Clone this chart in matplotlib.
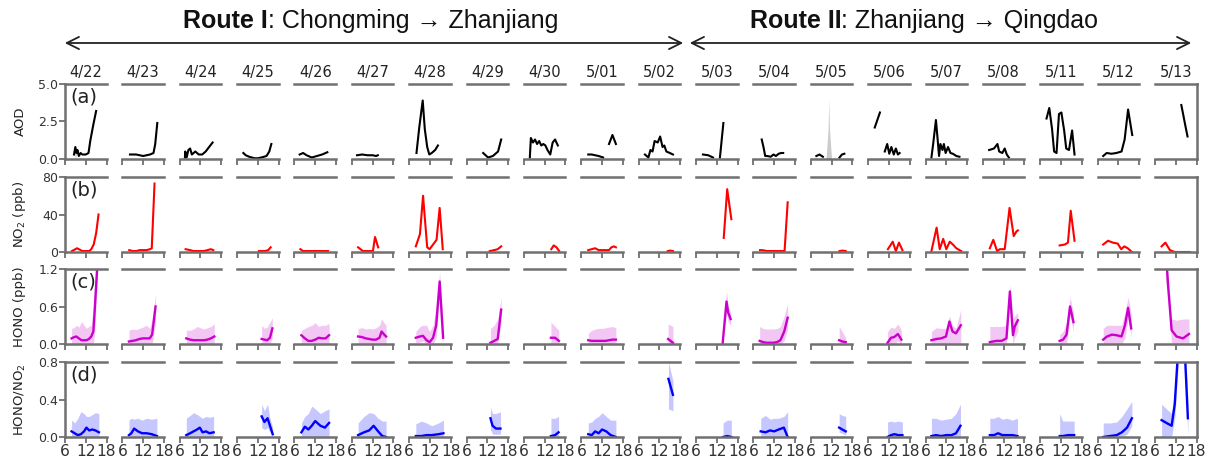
import numpy as np
import matplotlib
matplotlib.use("Agg")
import matplotlib.pyplot as plt

nan = np.nan

DATES = ["4/22", "4/23", "4/24", "4/25", "4/26", "4/27", "4/28", "4/29", "4/30", "5/01",
         "5/02", "5/03", "5/04", "5/05", "5/06", "5/07", "5/08", "5/11", "5/12", "5/13"]
ROUTE_TITLES = [("Route I", ": Chongming \u2192 Zhanjiang"), ("Route II", ": Zhanjiang \u2192 Qingdao")]
ROW_LABELS = ["AOD", "NO$_2$ (ppb)", "HONO (ppb)", "HONO/NO$_2$"]
PANEL_TAGS = ["(a)", "(b)", "(c)", "(d)"]
YTICKS = [[0.0, 2.5, 5.0], [0, 40, 80], [0.0, 0.6, 1.2], [0.0, 0.4, 0.8]]
YTICKLABELS = [["0.0", "2.5", "5.0"], ["0", "40", "80"], ["0.0", "0.6", "1.2"], ["0.0", "0.4", "0.8"]]
XTICKS = [6, 12, 18]

# ---------------- (a) AOD ----------------
AOD_H = [
    [8.6, 9.0, 9.3, 9.6, 10, 10.5, 11, 12, 12.8, 13.3, 14.2, 15.0],
    [8.2, 9, 10, 11, 12, 13, 14, 15, 15.5, 16.1],
    [7.5, 7.6, 8.0, 8.5, 9.0, 9.5, 10.5, 11.5, 12.5, 13.5, 14.5, 15.5],
    [7.8, 8.5, 9.5, 11, 12, 13, 14.5, 15.3, 15.9],
    [7.5, 8.5, 9.5, 11, 12.5, 14, 15.5],
    [7.5, 9, 10.5, 12, 13, 13.5],
    [8.1, 8.9, 9.9, 10.5, 11.2, 11.8, 12.5, 13.5, 14.3],
    [10.8, 12.2, 13.6, 15.1, 16.0],
    [7.7, 8.0, 8.6, 9.2, 9.8, 10.4, 11.0, 11.6, 12.2, 12.8, 13.6, 14.3, 15.0, 15.8],
    [8.0, 9.0, 10.0, 11.0, 12.3, 13.0, 14.0, 15.0, 16.0],
    [7.8, 8.8, 9.4, 10.0, 10.6, 11.5, 12.2, 12.9, 13.4, 14.0, 15.0, 15.9],
    [8.0, 9.5, 10.9, 12.0, 12.9, 13.9],
    [8.4, 8.9, 9.4, 10.0, 11.0, 11.8, 12.5, 13.3, 14.0, 14.6],
    [7.6, 8.5, 9.5, 12.0, 14.3, 15.0, 15.7],
    [7.9, 9.4, 10.0, 10.8, 11.5, 12.1, 12.7, 13.4, 14.0, 14.6, 15.1],
    [7.7, 8.2, 9.0, 9.5, 9.9, 10.3, 10.9, 11.3, 11.8, 12.5, 13.2, 13.9, 14.9, 15.8],
    [7.8, 9.2, 10.2, 10.7, 11.6, 12.3, 12.9, 13.5],
    [7.8, 8.6, 9.4, 10.0, 10.7, 11.4, 12.1, 12.9, 13.5, 14.3, 15.2, 15.9],
    [7.6, 8.6, 10.0, 11.4, 12.9, 13.8, 14.8, 15.5, 16.0],
    [13.6, 14.2, 14.7, 15.4],
]
AOD_V = [
    [0.3, 0.8, 0.4, 0.6, 0.2, 0.4, 0.3, 0.3, 0.4, 1.2, 2.3, 3.2],
    [0.3, 0.3, 0.3, 0.25, 0.2, 0.25, 0.3, 0.4, 1.0, 2.4],
    [0.1, 0.5, 0.1, 0.6, 0.7, 0.3, 0.5, 0.3, 0.3, 0.5, 0.8, 1.1],
    [0.4, 0.25, 0.15, 0.05, 0.05, 0.1, 0.2, 0.5, 1.0],
    [0.3, 0.4, 0.25, 0.1, 0.2, 0.3, 0.45],
    [0.25, 0.3, 0.25, 0.25, 0.2, 0.25],
    [0.4, 2.1, 3.9, 2.0, 0.8, 0.3, 0.4, 0.6, 0.9],
    [0.4, 0.1, 0.2, 0.5, 1.3],
    [0.1, 1.4, 1.1, 1.3, 1.0, 1.2, 0.9, 1.0, 0.9, 0.6, 0.3, 1.1, 1.3, 0.9],
    [0.3, 0.3, 0.25, 0.2, 0.1, nan, 1.0, 1.6, 1.0],
    [0.3, 0.1, 0.6, 0.5, 1.2, 1.1, 1.5, 0.8, 0.9, 0.5, 0.4, 0.3],
    [0.3, 0.25, 0.1, nan, 0.1, 2.4],
    [1.3, 0.8, 0.2, 0.2, 0.15, 0.3, 0.2, 0.35, 0.4, 0.4],
    [0.2, 0.3, 0.15, nan, 0.1, 0.3, 0.35],
    [2.1, 3.1, nan, 0.5, 1.0, 0.35, 0.8, 0.3, 0.7, 0.3, 0.4],
    [0.1, 1.0, 2.6, 1.3, 0.2, 1.0, 0.6, 1.0, 0.4, 0.8, 0.4, 0.35, 0.2, 0.15],
    [0.6, 0.7, 1.0, 0.5, 0.4, 0.7, 0.3, 0.1],
    [2.7, 3.4, 2.0, 0.5, 0.4, 3.0, 3.1, 1.9, 0.7, 0.6, 1.9, 0.3],
    [0.2, 0.4, 0.35, 0.4, 0.5, 1.3, 3.3, 2.3, 1.6],
    [3.6, 2.9, 2.3, 1.5],
]
# AOD spread (grey shading), only where visible: date index -> (hours, low, high)
AOD_SPREAD_DAY = [0, 13]
AOD_SPREAD_H = [[8.8, 9.0, 9.3], [10.4, 11.0, 11.2, 11.4, 12.0]]
AOD_SPREAD_LO = [[0.3, 0.0, 0.3], [0.0, 0.0, 0.0, 0.0, 0.0]]
AOD_SPREAD_HI = [[0.3, 0.8, 0.3], [0.0, 2.0, 4.0, 2.0, 0.0]]

# ---------------- (b) NO2 ----------------
NO2_H = [
    [8, 9, 9.5, 10, 11, 12, 13, 13.6, 14.3, 15.0, 15.7],
    [8, 9, 10, 11, 12, 13, 14, 14.5, 15.3],
    [7.7, 9, 10, 11, 12, 13, 14, 15, 15.7],
    [12.3, 13, 14, 15, 15.7],
    [7.7, 8.5, 10, 12, 14, 15.7],
    [7.8, 9.2, 11.1, 12.1, 12.7, 13.6],
    [7.9, 9.1, 10.0, 11.2, 11.9, 12.9, 13.9, 14.8, 15.7],
    [12.7, 14, 15, 16],
    [13.9, 14.6, 15.4, 16.2],
    [8, 9, 10, 11, 12, 13, 14, 14.7, 15.4, 16],
    [14.4, 15.1, 15.9],
    [14.0, 15.0, 16.2],
    [7.9, 8.5, 10, 12, 14, 15.0, 15.9],
    [14.3, 15.2, 16.1],
    [11.7, 13.1, 14.0, 14.9, 15.9],
    [7.7, 9.2, 10.1, 11.1, 12.0, 13.0, 13.9, 14.9, 16.3],
    [8.0, 9.0, 10.1, 10.9, 12.3, 13.7, 14.9, 15.7, 16.1],
    [11.6, 13.1, 14.0, 14.8, 15.9],
    [7.6, 9.0, 10.4, 11.8, 12.8, 13.7, 14.7, 15.9],
    [7.9, 9.0, 10.3, 11.7, 16.0],
]
NO2_V = [
    [1, 3, 4, 3, 1, 1, 1, 3, 8, 20, 40],
    [2, 1, 1, 2, 2, 2, 3, 4, 73],
    [3, 2, 1, 1, 1, 1, 2, 3, 2],
    [1, 1, 1, 2, 5],
    [3, 1, 1, 1, 1, 1],
    [5, 1, 1, 1, 16, 5],
    [6, 19, 60, 5, 3, 8, 13, 47, 3],
    [1, 2, 3, 6],
    [3, 7, 5, 1],
    [2, 3, 4, 2, 2, 2, 2, 5, 6, 5],
    [1, 1.5, 1],
    [15, 67, 35],
    [2, 2, 1, 1, 1, 1, 53],
    [1, 1.5, 1],
    [3, 11, 1, 10, 2],
    [1, 26, 3, 14, 3, 11, 8, 4, 1],
    [4, 13, 1, 3, 3, 47, 17, 22, 23],
    [7, 8, 10, 44, 12],
    [8, 12, 10, 9, 3, 6, 4, 0],
    [6, 10, 2, 0, 0],
]

# ---------------- (c) HONO ----------------
HONO_H = [
    [7.9, 8.6, 9.3, 10.0, 10.8, 11.5, 12.2, 12.9, 13.6, 14.2, 14.6, 15.5],
    [7.9, 8.9, 9.9, 10.9, 11.9, 12.9, 13.9, 14.6, 15.6],
    [7.9, 9, 10, 11, 12, 13, 14, 15, 16],
    [13.1, 13.9, 14.7, 15.5, 16.2],
    [8, 9, 10, 11, 12, 13, 14, 15, 16],
    [7.8, 9, 10, 11, 12, 13, 14, 14.6, 15.2, 15.9],
    [7.9, 9.1, 10.0, 11.0, 11.9, 12.9, 13.8, 14.8, 15.8],
    [12.9, 14.0, 15.0, 16.0],
    [13.8, 15.0, 16.1],
    [8, 9, 10, 11, 12, 13, 14, 15, 16],
    [14.5, 15.9],
    [13.7, 14.8, 15.3, 16.0],
    [7.8, 8.8, 9.8, 10.8, 11.8, 12.8, 13.8, 14.9, 15.9],
    [14.2, 15.1, 16.1],
    [11.6, 12.6, 13.5, 14.6, 15.6],
    [7.7, 9.1, 10.5, 11.9, 12.9, 13.8, 14.8, 16.2],
    [8.0, 9.9, 11.4, 12.8, 13.8, 14.7, 15.2, 16.1],
    [11.6, 12.6, 13.6, 14.6, 15.6],
    [7.6, 8.7, 10.1, 11.5, 12.9, 13.9, 14.8, 15.7],
    [9.1, 9.8, 10.8, 12.2, 14.1, 15.8],
]
HONO_M = [
    [0.09, 0.11, 0.12, 0.09, 0.06, 0.06, 0.06, 0.08, 0.12, 0.2, 0.55, 1.4],
    [0.04, 0.05, 0.06, 0.08, 0.09, 0.09, 0.09, 0.15, 0.6],
    [0.09, 0.07, 0.06, 0.06, 0.06, 0.06, 0.07, 0.09, 0.12],
    [0.08, 0.07, 0.06, 0.1, 0.25],
    [0.14, 0.09, 0.05, 0.05, 0.07, 0.1, 0.09, 0.09, 0.14],
    [0.12, 0.11, 0.09, 0.08, 0.07, 0.07, 0.1, 0.2, 0.16, 0.12],
    [0.1, 0.12, 0.13, 0.06, 0.03, 0.1, 0.3, 1.0, 0.1],
    [0.02, 0.05, 0.08, 0.55],
    [0.1, 0.1, 0.05],
    [0.06, 0.05, 0.05, 0.05, 0.05, 0.05, 0.06, 0.07, 0.07],
    [0.08, 0.02],
    [0.02, 0.68, 0.5, 0.4],
    [0.05, 0.03, 0.02, 0.02, 0.02, 0.03, 0.06, 0.2, 0.42],
    [0.06, 0.04, 0.03],
    [0.02, 0.1, 0.11, 0.16, 0.07],
    [0.06, 0.08, 0.09, 0.12, 0.36, 0.2, 0.17, 0.3],
    [0.03, 0.05, 0.05, 0.09, 0.84, 0.14, 0.28, 0.38],
    [0.05, 0.07, 0.15, 0.6, 0.35],
    [0.07, 0.12, 0.15, 0.14, 0.12, 0.3, 0.58, 0.25],
    [1.5, 0.92, 0.22, 0.12, 0.09, 0.16],
]
HONO_LO = [
    [0.0] * 10 + [0.2, 1.2],
    [0.0] * 8 + [0.35],
    [0.0] * 9,
    [0.0, 0.0, 0.0, 0.0, 0.1],
    [0.0] * 9,
    [0.0] * 10,
    [0.02, 0.03, 0.05, 0.0, 0.0, 0.0, 0.1, 0.8, 0.0],
    [0.0, 0.0, 0.0, 0.35],
    [0.0, 0.0, 0.0],
    [0.0] * 9,
    [0.0, 0.0],
    [0.0, 0.5, 0.35, 0.3],
    [0.0] * 7 + [0.05, 0.25],
    [0.0, 0.0, 0.0],
    [0.0, 0.0, 0.0, 0.05, 0.0],
    [0.0] * 8,
    [0.0, 0.0, 0.0, 0.0, 0.65, 0.0, 0.1, 0.2],
    [0.0, 0.0, 0.0, 0.45, 0.2],
    [0.0, 0.0, 0.0, 0.0, 0.0, 0.1, 0.4, 0.1],
    [1.0, 0.7, 0.0, 0.0, 0.0, 0.0],
]
HONO_HI = [
    [0.25, 0.26, 0.3, 0.27, 0.36, 0.3, 0.25, 0.28, 0.3, 0.6, 1.0, 1.5],
    [0.22, 0.24, 0.23, 0.25, 0.27, 0.3, 0.25, 0.4, 0.8],
    [0.22, 0.22, 0.24, 0.28, 0.26, 0.24, 0.26, 0.28, 0.32],
    [0.3, 0.25, 0.27, 0.35, 0.42],
    [0.22, 0.25, 0.28, 0.3, 0.34, 0.28, 0.3, 0.3, 0.33],
    [0.25, 0.26, 0.24, 0.25, 0.24, 0.26, 0.3, 0.4, 0.35, 0.3],
    [0.2, 0.28, 0.3, 0.3, 0.2, 0.3, 0.6, 1.15, 0.3],
    [0.25, 0.3, 0.4, 0.75],
    [0.35, 0.28, 0.22],
    [0.17, 0.22, 0.24, 0.25, 0.25, 0.26, 0.27, 0.28, 0.26],
    [0.32, 0.28],
    [0.05, 0.85, 0.6, 0.5],
    [0.28, 0.25, 0.24, 0.24, 0.24, 0.25, 0.28, 0.45, 0.65],
    [0.28, 0.2, 0.1],
    [0.2, 0.27, 0.25, 0.32, 0.22],
    [0.2, 0.26, 0.25, 0.25, 0.45, 0.3, 0.25, 0.55],
    [0.28, 0.28, 0.28, 0.3, 0.95, 0.4, 0.45, 0.5],
    [0.15, 0.2, 0.35, 0.75, 0.5],
    [0.25, 0.3, 0.3, 0.3, 0.3, 0.5, 0.75, 0.5],
    [1.5, 1.1, 0.4, 0.38, 0.4, 0.4],
]

# ---------------- (d) HONO/NO2 ----------------
RAT_H = [
    [7.9, 8.8, 9.7, 10.6, 11.5, 12.2, 13.0, 13.9, 14.8, 15.8],
    [7.9, 8.6, 9.4, 10.5, 11.7, 13.0, 14.5, 16.0],
    [7.9, 9, 10, 11, 11.8, 12.6, 13.6, 14.6, 15.8],
    [13.1, 13.9, 14.8, 15.5, 16.3],
    [8, 9, 10, 11, 12, 13.5, 14.8, 16],
    [7.8, 9.5, 11, 12.3, 13.6, 14.8, 15.9],
    [7.9, 9.5, 11, 12.5, 14.5, 15.9],
    [12.9, 13.5, 14.5, 15.8],
    [13.8, 15.0, 16.0],
    [8, 9, 10, 11, 12, 13.2, 14.5, 16],
    [14.6, 15.9],
    [13.8, 15.0, 16.2],
    [8.1, 9.5, 10.8, 12, 13.3, 14.8, 15.9],
    [14.2, 15.1, 16.1],
    [11.6, 12.6, 13.6, 14.7, 15.9],
    [7.7, 9, 10.5, 12, 13.5, 14.8, 16.1],
    [8, 9.2, 10.4, 11.6, 13, 14.5, 16],
    [11.6, 12.5, 14, 15.8],
    [7.6, 9.5, 11.5, 13, 14.5, 15.9],
    [7.9, 9.3, 10.8, 11.7, 12.8, 14.5, 15.5],
]
RAT_M = [
    [0.06, 0.04, 0.02, 0.03, 0.06, 0.1, 0.07, 0.08, 0.07, 0.05],
    [0.02, 0.04, 0.09, 0.06, 0.04, 0.04, 0.03, 0.01],
    [0.02, 0.04, 0.06, 0.08, 0.1, 0.05, 0.06, 0.04, 0.05],
    [0.22, 0.16, 0.2, 0.12, 0.03],
    [0.05, 0.11, 0.08, 0.12, 0.17, 0.12, 0.1, 0.15],
    [0.02, 0.05, 0.07, 0.12, 0.06, 0.01, 0.0],
    [0.01, 0.01, 0.02, 0.02, 0.03, 0.04],
    [0.2, 0.12, 0.09, 0.09],
    [0.01, 0.02, 0.05],
    [0.03, 0.02, 0.06, 0.04, 0.08, 0.06, 0.02, 0.0],
    [0.62, 0.45],
    [0.0, 0.01, 0.0],
    [0.06, 0.05, 0.07, 0.06, 0.08, 0.1, 0.0],
    [0.1, 0.08, 0.06],
    [0.0, 0.02, 0.03, 0.02, 0.02],
    [0.01, 0.02, 0.01, 0.02, 0.02, 0.04, 0.12],
    [0.02, 0.02, 0.04, 0.02, 0.02, 0.02, 0.01],
    [0.01, 0.01, 0.02, 0.02],
    [0.0, 0.01, 0.02, 0.05, 0.1, 0.2],
    [0.18, 0.15, 0.12, 0.35, 1.0, 1.0, 0.2],
]
RAT_LO = [
    [0.0] * 10,
    [0.0] * 8,
    [0.0] * 9,
    [0.1, 0.08, 0.1, 0.05, 0.0],
    [0.0] * 8,
    [0.0] * 7,
    [0.0] * 6,
    [0.08, 0.03, 0.03, 0.03],
    [0.0] * 3,
    [0.0] * 8,
    [0.3, 0.28],
    [0.0] * 3,
    [0.0] * 7,
    [0.05, 0.04, 0.02],
    [0.0] * 5,
    [0.0] * 7,
    [0.0] * 7,
    [0.0] * 4,
    [0.0, 0.0, 0.0, 0.0, 0.03, 0.12],
    [0.0, 0.0, 0.0, 0.2, 0.8, 0.8, 0.0],
]
RAT_HI = [
    [0.18, 0.15, 0.2, 0.27, 0.25, 0.22, 0.22, 0.24, 0.26, 0.25],
    [0.18, 0.2, 0.19, 0.2, 0.18, 0.2, 0.19, 0.2],
    [0.2, 0.23, 0.26, 0.24, 0.22, 0.2, 0.22, 0.21, 0.22],
    [0.35, 0.28, 0.35, 0.2, 0.1],
    [0.15, 0.22, 0.25, 0.33, 0.3, 0.25, 0.28, 0.3],
    [0.15, 0.22, 0.26, 0.25, 0.2, 0.17, 0.17],
    [0.14, 0.17, 0.15, 0.12, 0.15, 0.18],
    [0.32, 0.25, 0.25, 0.27],
    [0.2, 0.2, 0.22],
    [0.15, 0.16, 0.2, 0.22, 0.26, 0.22, 0.18, 0.18],
    [0.8, 0.6],
    [0.15, 0.18, 0.18],
    [0.2, 0.23, 0.19, 0.2, 0.2, 0.22, 0.27],
    [0.25, 0.23, 0.22],
    [0.16, 0.17, 0.16, 0.17, 0.16],
    [0.2, 0.2, 0.18, 0.19, 0.2, 0.25, 0.35],
    [0.2, 0.2, 0.22, 0.19, 0.2, 0.18, 0.2],
    [0.25, 0.17, 0.17, 0.17],
    [0.15, 0.15, 0.16, 0.22, 0.3, 0.38],
    [0.35, 0.3, 0.25, 0.5, 1.2, 1.2, 0.4],
]

# ---------------- layout ----------------
W, H = 1212, 465
fig = plt.figure(figsize=(W / 100, H / 100), dpi=100)

COL0, PITCH, COLW = 65.0, 57.37, 41.5
ROW_TOPS = [84, 177, 269, 362]
ROWH = 75
YLIMS = [(0, 5), (0, 80), (0, 1.2), (0, 0.8)]
SPINE_C = "#707070"
HONO_C = "#CC00CC"
RAT_C = "#0000FF"

ncol = len(DATES)
for r in range(4):
    for c in range(ncol):
        left = COL0 + c * PITCH
        ax = fig.add_axes([left / W, 1 - (ROW_TOPS[r] + ROWH) / H, COLW / W, ROWH / H])
        ax.set_xlim(6, 18)
        ax.set_ylim(*YLIMS[r])
        for s in ["top", "bottom", "left", "right"]:
            ax.spines[s].set_color(SPINE_C)
            ax.spines[s].set_linewidth(1.8)
        ax.spines["left"].set_visible(c == 0)
        ax.spines["right"].set_visible(c == ncol - 1)
        ax.set_xticks(XTICKS)
        ax.tick_params(axis="x", direction="out", length=4, width=1.3, color=SPINE_C,
                       labelsize=11.2, pad=1, labelbottom=(r == 3))
        if c == 0:
            ax.set_yticks(YTICKS[r])
            ax.set_yticklabels(YTICKLABELS[r])
            ax.tick_params(axis="y", direction="out", length=4, width=1.3, color=SPINE_C,
                           labelsize=9, pad=1, labelcolor="#333333")
            ax.text(0.12, 0.95, PANEL_TAGS[r], transform=ax.transAxes, fontsize=14,
                    va="top", ha="left", color="#222222")
        else:
            ax.set_yticks([])
        ax.tick_params(axis="x", labelcolor="#333333")
        if r == 0:
            ax.set_title(DATES[c], fontsize=10.5, pad=5, color="#222222")

        if r == 0:
            if c in AOD_SPREAD_DAY:
                k = AOD_SPREAD_DAY.index(c)
                ax.fill_between(AOD_SPREAD_H[k], AOD_SPREAD_LO[k], AOD_SPREAD_HI[k],
                                color="#999999", alpha=0.5, lw=0)
            ax.plot(AOD_H[c], AOD_V[c], color="black", lw=1.5)
        elif r == 1:
            ax.plot(NO2_H[c], NO2_V[c], color="red", lw=1.5)
        elif r == 2:
            ax.fill_between(HONO_H[c], HONO_LO[c], HONO_HI[c], color=HONO_C, alpha=0.22, lw=0)
            ax.plot(HONO_H[c], HONO_M[c], color=HONO_C, lw=1.7)
        else:
            ax.fill_between(RAT_H[c], RAT_LO[c], RAT_HI[c], color=RAT_C, alpha=0.22, lw=0)
            ax.plot(RAT_H[c], RAT_M[c], color=RAT_C, lw=1.7)

    fig.text(20 / W, 1 - (ROW_TOPS[r] + ROWH / 2) / H, ROW_LABELS[r], rotation=90,
             ha="center", va="center", fontsize=9.5, color="#222222")

# ---------------- route arrows & titles ----------------
ARROW_Y = 43
for x0, x1 in [(62, 686), (687, 1194)]:
    fig.add_artist(matplotlib.patches.FancyArrowPatch(
        (x0 / W, 1 - ARROW_Y / H), (x1 / W, 1 - ARROW_Y / H), transform=fig.transFigure,
        arrowstyle="<->", mutation_scale=22, lw=1.3, color="#222222"))

fig.canvas.draw()
renderer = fig.canvas.get_renderer()
TITLE_CX = [371, 924]
TITLE_Y = 21
fam = ["Liberation Sans", "DejaVu Sans"]
for (bold, rest), cx in zip(ROUTE_TITLES, TITLE_CX):
    t1 = fig.text(0, 1 - TITLE_Y / H, bold, fontsize=18, fontweight="bold", family=fam,
                  va="center", ha="left", color="#111111")
    t2 = fig.text(0, 1 - TITLE_Y / H, rest, fontsize=18, family=fam,
                  va="center", ha="left", color="#111111")
    w1 = t1.get_window_extent(renderer).width
    w2 = t2.get_window_extent(renderer).width
    start = cx - (w1 + w2) / 2
    t1.set_x(start / W)
    t2.set_x((start + w1) / W)

fig.savefig("out.png", dpi=100)
